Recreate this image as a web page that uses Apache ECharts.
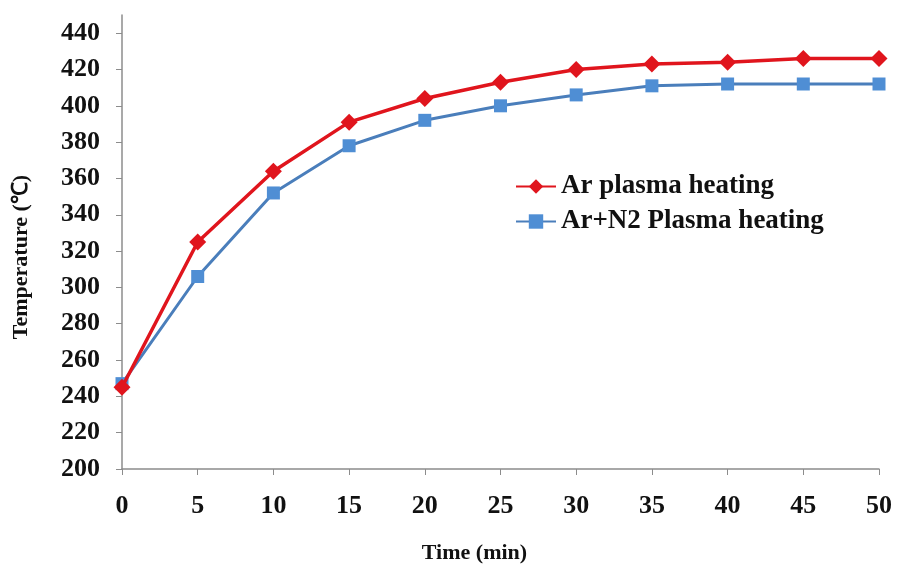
<!DOCTYPE html>
<html>
<head>
<meta charset="utf-8">
<script src="https://cdn.jsdelivr.net/npm/echarts@6/dist/echarts.min.js"></script>
<style>
  html, body { margin: 0; padding: 0; background: #fff; }
  #chart { width: 898px; height: 572px; }
</style>
</head>
<body>
<div id="chart"></div>
<script>
// time in minutes
const times = [0, 5, 10, 15, 20, 25, 30, 35, 40, 45, 50]
// temperature readings
const arHeating = [245, 325, 364, 391, 404, 413, 420, 423, 424, 426, 426]
const arN2Heating = [247, 306, 352, 378, 392, 400, 406, 411, 412, 412, 412]
const yTicks = [200, 220, 240, 260, 280, 300, 320, 340, 360, 380, 400, 420, 440]
const seriesNames = ['Ar plasma heating', 'Ar+N2 Plasma heating']

const font = 'Liberation Serif'
const chart = echarts.init(document.getElementById('chart'))

const toPairs = (vals) => times.map((t, i) => [t, vals[i]])

const option = {
  backgroundColor: '#fff',
  animation: false,
  grid: { left: 122, right: 19, top: 15, bottom: 103 },
  legend: {
    left: 510,
    top: 168,
    orient: 'vertical',
    itemWidth: 40,
    itemHeight: 18,
    itemGap: 8,
    textStyle: { fontFamily: font, fontWeight: 'bold', fontSize: 27, color: '#111' },
    data: seriesNames
  },
  xAxis: {
    type: 'value',
    min: 0,
    max: 50,
    interval: 5,
    name: 'Time (min)',
    nameLocation: 'middle',
    nameGap: 73,
    nameTextStyle: { fontFamily: font, fontWeight: 'bold', fontSize: 22, color: '#111', padding: [0, 52, 0, 0] },
    axisLine: { lineStyle: { color: '#8c8c8c', width: 1.5 } },
    axisTick: { show: true, length: 6, lineStyle: { color: '#8c8c8c' } },
    axisLabel: { fontFamily: font, fontWeight: 'bold', fontSize: 26, color: '#111', margin: 24 },
    splitLine: { show: false }
  },
  yAxis: {
    type: 'value',
    min: 200,
    max: 450,
    name: 'Temperature (℃)',
    nameLocation: 'middle',
    nameGap: 90,
    nameTextStyle: { fontFamily: font, fontWeight: 'bold', fontSize: 22, color: '#111', padding: [0, 30, 0, 0] },
    axisLine: { show: true, lineStyle: { color: '#8c8c8c', width: 1.5 } },
    axisTick: { show: true, length: 6, lineStyle: { color: '#8c8c8c' }, customValues: yTicks },
    axisLabel: { fontFamily: font, fontWeight: 'bold', fontSize: 26, color: '#111', margin: 22, customValues: yTicks },
    splitLine: { show: false }
  },
  series: [
    {
      name: seriesNames[0],
      type: 'line',
      data: toPairs(arHeating),
      symbol: 'diamond',
      symbolSize: 17,
      lineStyle: { color: '#e0151d', width: 3.5 },
      itemStyle: { color: '#e0151d' },
      z: 3
    },
    {
      name: seriesNames[1],
      type: 'line',
      data: toPairs(arN2Heating),
      symbol: 'rect',
      symbolSize: 13,
      lineStyle: { color: '#4a7ebb', width: 3 },
      itemStyle: { color: '#4f8ed4' },
      z: 2
    }
  ]
}

chart.setOption(option)
</script>
</body>
</html>
